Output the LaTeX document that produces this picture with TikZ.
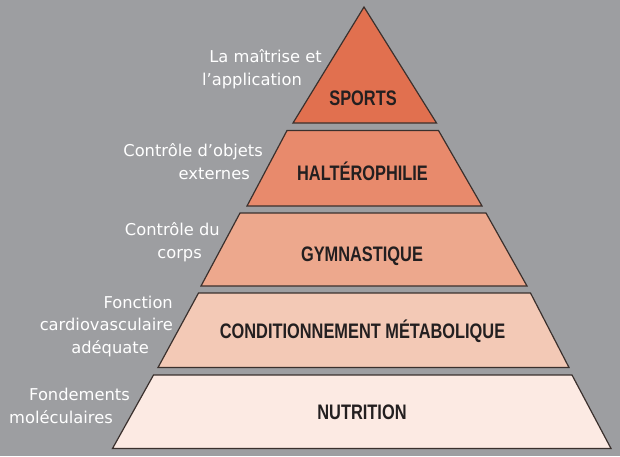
\documentclass[tikz,border=0pt]{standalone}
\usepackage{fontspec}
\usepackage{xcolor}
\usepackage{tikz}
\usetikzlibrary{positioning}

\newfontfamily\labelfont{DejaVu Sans}
\newfontfamily\titlefont[FakeStretch=0.78]{Liberation Sans Bold}

\definecolor{bggray}{HTML}{9D9EA1}
\definecolor{sportsred}{HTML}{E1704F}
\definecolor{haltred}{HTML}{E88A6C}
\definecolor{gymsalmon}{HTML}{EDA88D}
\definecolor{condpeach}{HTML}{F3C9B6}
\definecolor{nutripink}{HTML}{FCEAE3}
\definecolor{edgedark}{HTML}{3A302D}
\definecolor{titledark}{HTML}{231F20}

\begin{document}
\begin{tikzpicture}[
    x=1pt, y=-1pt,
    layer/.style={draw=edgedark, line width=1.2pt, line join=miter},
    title/.style={anchor=base, inner sep=0pt, text=titledark, font=\titlefont\fontsize{21}{24}\selectfont},
    note/.style={anchor=east, inner sep=0pt, align=right, text=white, font=\labelfont\fontsize{16.3}{22.5}\selectfont}
]

% Background
\fill[bggray] (0,0) rectangle (620,456);

% Pyramid layers (top to bottom)
\draw[layer, fill=sportsred] (364,7) -- (436.5,123) -- (293,123) -- cycle;
\draw[layer, fill=haltred] (287,130.5) -- (438.5,130.5) -- (482,206) -- (247,206) -- cycle;
\draw[layer, fill=gymsalmon] (240,213) -- (486,213) -- (527,286) -- (201,286) -- cycle;
\draw[layer, fill=condpeach] (198.5,293) -- (530.5,293) -- (569,367.5) -- (158,367.5) -- cycle;
\draw[layer, fill=nutripink] (153.5,375) -- (572,375) -- (611,448.5) -- (112.5,448.5) -- cycle;

% Layer titles
\node[title] (sports) at (363,105) {SPORTS};
\node[title] (halterophilie) at (362.5,180) {HALTÉROPHILIE};
\node[title] (gymnastique) at (362,261) {GYMNASTIQUE};
\node[title] (conditionnement) at (362.5,338) {CONDITIONNEMENT MÉTABOLIQUE};
\node[title] (nutrition) at (362,419) {NUTRITION};

% Side notes
\node[note] (note_sports) at (322,69) {La maîtrise et\\l’application\hspace*{20pt}};
\node[note] (note_halt) at (263,161.5) {Contrôle d’objets\\externes\hspace*{13pt}};
\node[note] (note_gym) at (220,242) {Contrôle du\\corps\hspace*{18pt}};
\node[note] (note_cond) at (173,326) {Fonction\\cardiovasculaire\hspace*{5pt}\\adéquate\hspace*{24pt}};
\node[note] (note_nutri) at (130,406) {Fondements\\moléculaires\hspace*{17pt}};

\end{tikzpicture}
\end{document}
